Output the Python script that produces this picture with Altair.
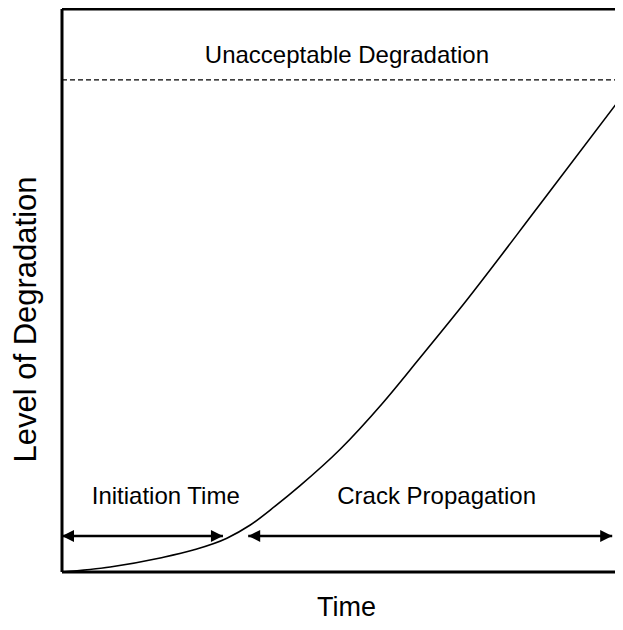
import altair as alt
import pandas as pd

# Degradation curve (time, level) (0-100 units on both axes)
curve_t = [0, 8.6, 17.5, 23.4, 29.4, 33.5, 38.0, 42.4, 49.6, 57.0, 63.8, 70.9, 85.0, 100]
curve_y = [0, 0.9, 2.5, 3.9, 6.0, 8.3, 11.7, 15.3, 21.8, 29.8, 38.0, 46.7, 65.0, 84.7]

# Threshold of unacceptable degradation
limit_level = 87.4

# Arrows: name, start, end, level
arrow_names = ["Initiation Time", "Crack Propagation"]
arrow_start = [0, 33.2]
arrow_end = [28.7, 98.1]
arrow_level = [6.4, 6.4]

# Text labels
label_text = ["Unacceptable Degradation", "Initiation Time", "Crack Propagation"]
label_x = [50.8, 18.5, 66.8]
label_y = [91.7, 13.3, 13.3]

FONT = "Liberation Sans"
W, H = 553, 563
X_MAX = 98.6

xs = alt.Scale(domain=[0, X_MAX], nice=False, zero=False)
ys = alt.Scale(domain=[0, 100], nice=False, zero=False)

curve_df = pd.DataFrame({"t": curve_t, "y": curve_y})
arrows_df = pd.DataFrame({"name": arrow_names, "x1": arrow_start, "x2": arrow_end, "y": arrow_level})
labels_df = pd.DataFrame({"text": label_text, "x": label_x, "y": label_y})
limit_df = pd.DataFrame({"x1": [0], "x2": [X_MAX], "y": [limit_level]})
frame_df = pd.DataFrame({
    "x1": [0, 0, 0], "x2": [0, X_MAX, X_MAX],
    "y1": [0, 100, 0], "y2": [100, 100, 0],
})

x_axis = alt.Axis(title="Time", labels=False, ticks=False, domain=False, grid=False,
                  titleFont=FONT, titleFontSize=27, titleFontWeight="normal",
                  titleColor="black", titlePadding=22, titleX=284)
y_axis = alt.Axis(title="Level of Degradation", labels=False, ticks=False, domain=False,
                  grid=False, titleFont=FONT, titleFontSize=31, titleFontWeight="normal",
                  titleColor="black", titlePadding=20, titleY=310)

base_axes = alt.Chart(curve_df).mark_line(
    interpolate="monotone", color="black", strokeWidth=1.6, clip=True
).encode(
    x=alt.X("t:Q", scale=xs, axis=x_axis),
    y=alt.Y("y:Q", scale=ys, axis=y_axis),
)

frame = alt.Chart(frame_df).mark_rule(color="black", strokeWidth=3).encode(
    x=alt.X("x1:Q", scale=xs), x2="x2:Q",
    y=alt.Y("y1:Q", scale=ys), y2="y2:Q",
)

limit = alt.Chart(limit_df).mark_rule(color="black", strokeWidth=1.3, strokeDash=[5, 3]).encode(
    x=alt.X("x1:Q", scale=xs), x2="x2:Q", y=alt.Y("y:Q", scale=ys)
)

shafts = alt.Chart(arrows_df).mark_rule(color="black", strokeWidth=2.5).encode(
    x=alt.X("x1:Q", scale=xs), x2="x2:Q", y=alt.Y("y:Q", scale=ys)
)

head_left = alt.Chart(arrows_df).mark_point(
    shape="M0,0L1,-0.5L1,0.5Z", filled=True, color="black", size=576, opacity=1
).encode(x=alt.X("x1:Q", scale=xs), y=alt.Y("y:Q", scale=ys))

head_right = alt.Chart(arrows_df).mark_point(
    shape="M0,0L-1,-0.5L-1,0.5Z", filled=True, color="black", size=576, opacity=1
).encode(x=alt.X("x2:Q", scale=xs), y=alt.Y("y:Q", scale=ys))

labels = alt.Chart(labels_df).mark_text(
    font=FONT, fontSize=24, color="black", align="center", baseline="middle"
).encode(x=alt.X("x:Q", scale=xs), y=alt.Y("y:Q", scale=ys), text="text:N")

chart = alt.layer(base_axes, limit, shafts, head_left, head_right, labels, frame).properties(
    width=W, height=H,
    autosize=alt.AutoSizeParams(type="none"),
    padding={"left": 54, "top": 1, "right": 0, "bottom": 50},
).configure_view(stroke=None).configure(background="white")

chart.save("out.html", embed_options={"renderer": "svg", "actions": False})
